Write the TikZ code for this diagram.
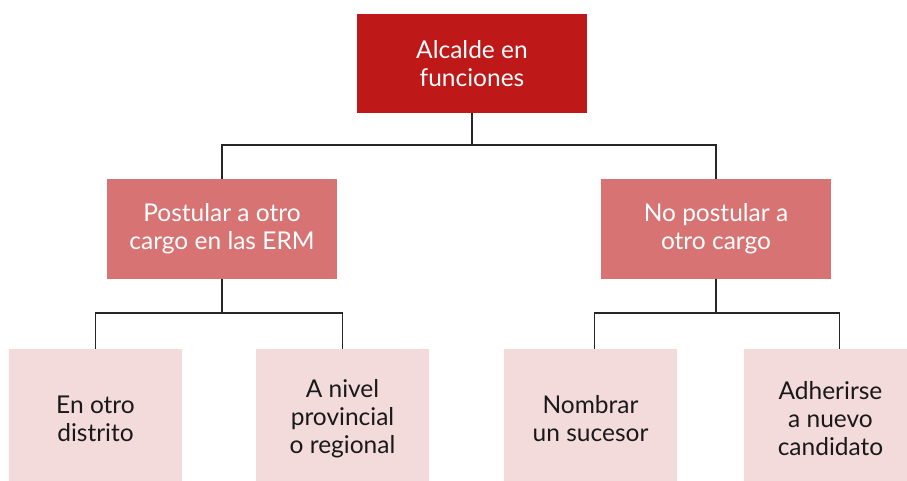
\documentclass[tikz,border=0pt]{standalone}
\usepackage{fontspec}
\setmainfont{Lato}
\usepackage{xcolor}
\usetikzlibrary{positioning}

\definecolor{topred}{HTML}{BE1818}
\definecolor{midred}{HTML}{D87373}
\definecolor{lowpink}{HTML}{F3DADB}

\tikzset{
    box/.style={rectangle, align=center, inner sep=0pt, font=\fontsize{24.5}{28}\selectfont},
    topbox/.style={box, fill=topred, text=white, minimum width=230pt, minimum height=99pt},
    midbox/.style={box, fill=midred, text=white, minimum width=230pt, minimum height=100pt},
    lowbox/.style={box, fill=lowpink, text=black!90, minimum width=173pt, minimum height=139pt},
    line/.style={line width=1.2pt, black!85}
}

\begin{document}
\begin{tikzpicture}[x=1pt, y=-1pt]
\useasboundingbox (0,0) rectangle (907,480);

\node[topbox] (mayor) at (472,63.5) {Alcalde en\\funciones};

\node[midbox] (run) at (222,229) {Postular a otro\\cargo en las ERM};
\node[midbox] (norun) at (716,229) {No postular a\\otro cargo};

\node[lowbox] (dist) at (95.5,418.5) {En otro\\distrito};
\node[lowbox] (prov) at (342.5,418.5) {A nivel\\provincial\\o regional};
\node[lowbox] (succ) at (590.5,418.5) {Nombrar\\un sucesor};
\node[lowbox] (join) at (830.5,418.5) {Adherirse\\a nuevo\\candidato};

% top level
\coordinate (fork1) at (mayor.south |- 0,145);
\draw[line] (mayor.south) -- (fork1);
\draw[line] (fork1) -| (run.north);
\draw[line] (fork1) -| (norun.north);

% second level
\coordinate (fork2) at (run.south |- 0,313);
\draw[line] (run.south) -- (fork2);
\draw[line] (fork2) -| (dist.north);
\draw[line] (fork2) -| (prov.north);

\coordinate (fork3) at (norun.south |- 0,313);
\draw[line] (norun.south) -- (fork3);
\draw[line] (fork3) -| ([xshift=4pt]succ.north);
\draw[line] (fork3) -| ([xshift=9pt]join.north);
\end{tikzpicture}
\end{document}
